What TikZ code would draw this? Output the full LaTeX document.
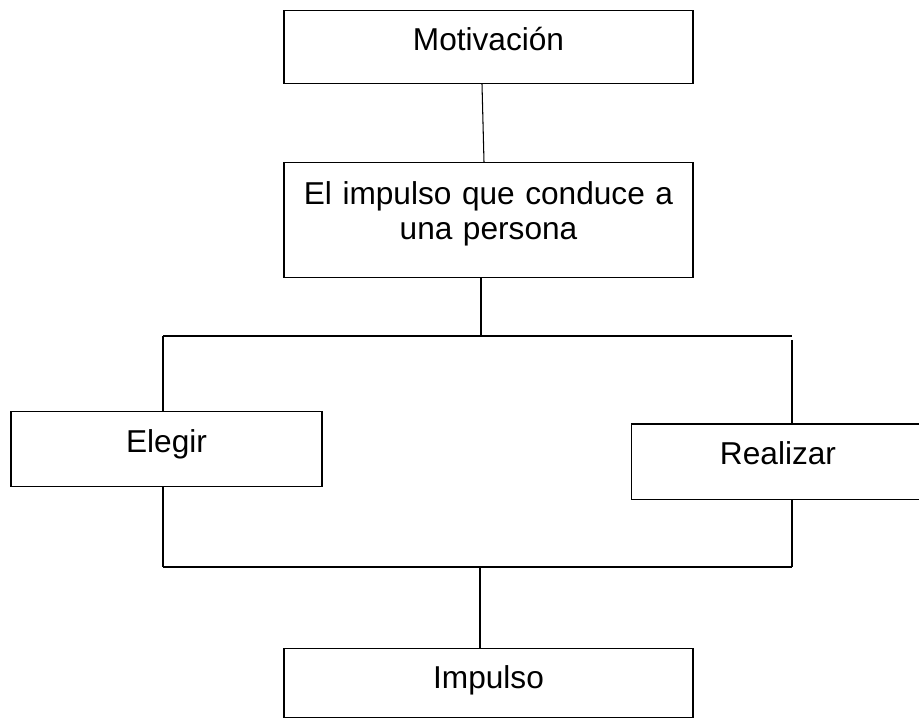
\documentclass[tikz,border=0pt]{standalone}
\usepackage{fontspec}
\setmainfont{Liberation Sans}
\usetikzlibrary{calc}

\begin{document}
\begin{tikzpicture}[line width=0.6pt,
    texto/.style={anchor=north, inner sep=0pt, align=center,
      font=\fontsize{18}{20}\selectfont},
    caja/.style={texto, draw}]
  \useasboundingbox (0,0) rectangle (18.38,14.4);

  \node [caja, text width=8.18cm, text height=0.8cm, text depth=0.66cm] (M) at (9.77,14.2) {Motivación};
  \node [caja, text width=8.18cm, text height=0.84cm, text depth=1.46cm] (I) at (9.77,11.16) {El impulso que conduce a\\una persona};
  \node [caja, text width=6.22cm, text height=0.82cm, text depth=0.68cm] (E) at (3.33,6.18) {Elegir};
  \node [texto, text width=5.84cm, text height=0.8cm, text depth=0.68cm] (R) at (15.56,5.92) {Realizar};
  \node [caja, text width=8.18cm, text height=0.8cm, text depth=0.58cm] (P) at (9.77,1.44) {Impulso};

  % the Realizar box runs off the right edge
  \draw (R.north east) -- (R.north west) -- (R.south west) -- (R.south east);

  \coordinate (A) at (3.26,7.68);
  \coordinate (B) at (15.84,7.68);
  \coordinate (C) at (3.26,3.06);
  \coordinate (D) at (15.84,3.06);

  \draw ([xshift=-0.13cm]M.south) -- ([xshift=-0.09cm]I.north);
  \draw ([xshift=-0.15cm]I.south) -- ([xshift=-0.15cm]I.south |- A);

  \draw (A) -- (B);
  \draw (A) -- (A |- E.north);
  \draw ([yshift=-0.08cm]B) -- (B |- R.north);

  \draw (A |- E.south) -- (C);
  \draw (B |- R.south) -- (D);
  \draw (C) -- (D);

  \draw ([xshift=-0.17cm]P.north |- C) -- ([xshift=-0.17cm]P.north);
\end{tikzpicture}
\end{document}
